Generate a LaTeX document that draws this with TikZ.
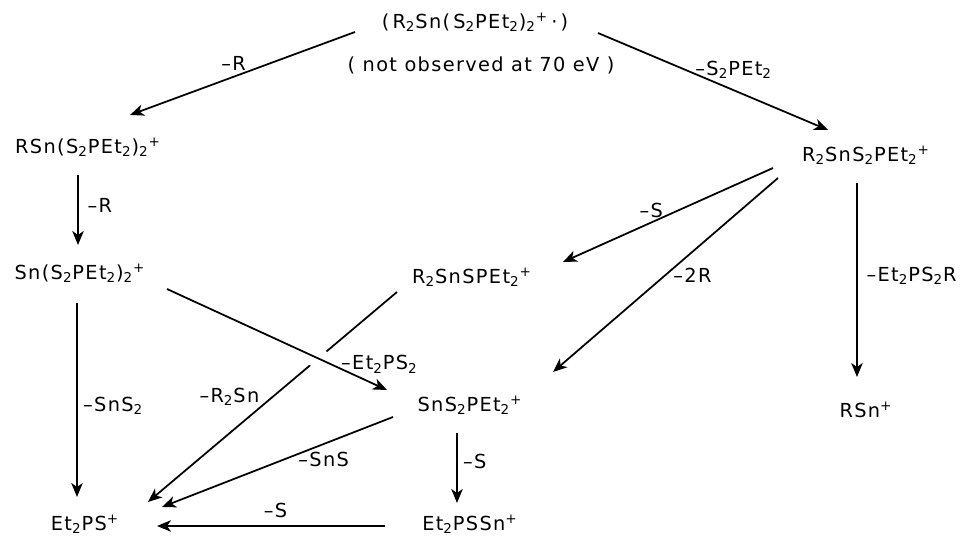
\documentclass[tikz,border=0pt]{standalone}
\usepackage{fontspec}
\setmainfont{DejaVu Sans}[LetterSpace=7]
\usetikzlibrary{arrows.meta}
\tikzset{
  every picture/.style={line width=1pt},
  ion/.style={inner sep=1pt, font=\fontsize{11}{13}\selectfont},
  loss/.style={inner sep=1pt, font=\fontsize{11}{13}\selectfont},
  frag/.style={-{Stealth[length=2.8mm,width=2.3mm,inset=0.8mm]}},
  bridge/.style={preaction={draw=white, line width=11pt, -}},
}
\newcommand{\two}{\textsubscript{2}}
\newcommand{\ch}{\textsuperscript{+}}

\begin{document}
\begin{tikzpicture}[x=0.2mm,y=-0.2mm]
\useasboundingbox (0,0) rectangle (969,538);
% parent ion and first generation
\node[ion] (top) at (475,22) {(\,R\two Sn(\,S\two PEt\two)\two\ch\,·\,)};
\node[ion] (note) at (481,65) {( not observed at 70 eV )};
\node[ion] (rsn) at (88,147) {RSn(S\two PEt\two)\two\ch};
\node[ion] (r2sns2) at (866,155) {R\two SnS\two PEt\two\ch};
% second generation
\node[ion] (sns2) at (80,273) {Sn(S\two PEt\two)\two\ch};
\node[ion] (r2snspet) at (472,277) {R\two SnSPEt\two\ch};
\node[ion] (sns2pet) at (470,405) {SnS\two PEt\two\ch};
\node[ion] (rsnp) at (866,410) {RSn\ch};
% end products
\node[ion] (et2ps) at (85,524) {Et\two PS\ch};
\node[ion] (et2pssn) at (470,524) {Et\two PSSn\ch};

\draw[frag] ([shift={(-120,10)}]top.center) -- ([shift={(42,-32)}]rsn.center)
  node[loss,pos=0.54,above=2pt] {--R};
\draw[frag] ([shift={(123,11)}]top.center) -- ([shift={(-38,-25)}]r2sns2.center)
  node[loss,pos=0.59,above=5pt] {--S\two PEt\two};
\draw[frag] ([shift={(-10,28)}]rsn.center) -- ([shift={(-2,-28)}]sns2.center)
  node[loss,pos=0.43,right=4pt] {--R};
\draw[frag] ([shift={(-93,13)}]r2sns2.center) -- ([shift={(91,-15)}]r2snspet.center)
  node[loss,pos=0.58,above=1pt] {--S};
\draw[frag] ([shift={(-88,23)}]r2sns2.center) -- ([shift={(83,-33)}]sns2pet.center)
  node[loss,pos=0.5,right=3pt] {--2R};
\draw[frag] ([shift={(-9,28)}]r2sns2.center) -- ([shift={(-9,-33)}]rsnp.center)
  node[loss,pos=0.48,right=4pt] {--Et\two PS\two R};
\draw[frag] ([shift={(-75,15)}]r2snspet.center) -- ([shift={(63,-22)}]et2ps.center)
  node[loss,pos=0.5,left=6pt] {--R\two Sn};
\draw[frag,bridge] ([shift={(87,16)}]sns2.center) -- ([shift={(-83,-15)}]sns2pet.center)
  node[loss,pos=0.78,anchor=west,yshift=2pt] {--Et\two PS\two};
\draw[frag] ([shift={(-3,30)}]sns2.center) -- ([shift={(-8,-27)}]et2ps.center)
  node[loss,pos=0.53,right=2pt] {--SnS\two};
\draw[frag] ([shift={(-77,12)}]sns2pet.center) -- ([shift={(77,-17)}]et2ps.center)
  node[loss,pos=0.3,below=3pt] {--SnS};
\draw[frag] ([shift={(-13,28)}]sns2pet.center) -- ([shift={(-13,-21)}]et2pssn.center)
  node[loss,pos=0.41,right=2pt] {--S};
\draw[frag] ([shift={(-85,2)}]et2pssn.center) -- ([shift={(72,2)}]et2ps.center)
  node[loss,pos=0.48,above=3pt] {--S};
\end{tikzpicture}
\end{document}
